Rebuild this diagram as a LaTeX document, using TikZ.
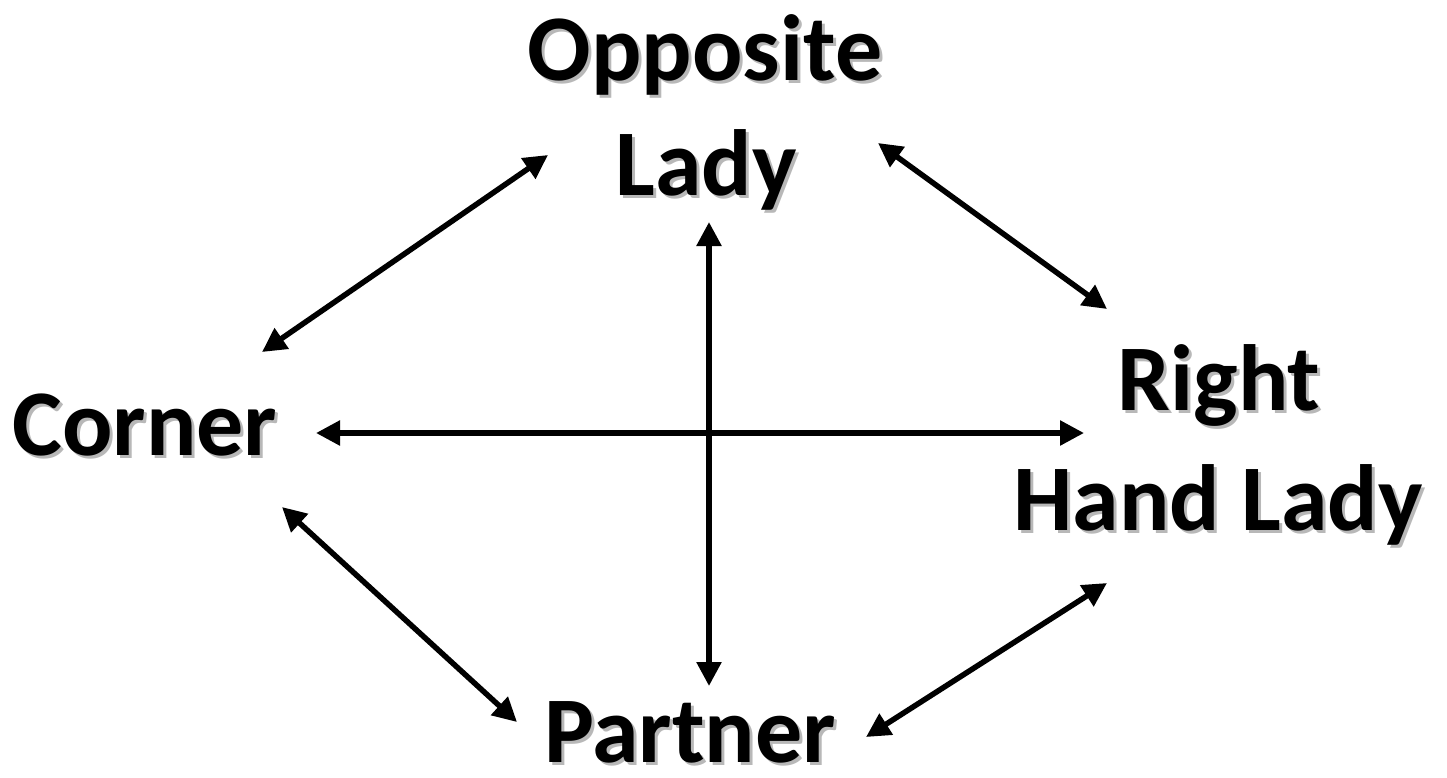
\documentclass[tikz,border=0pt]{standalone}
\usepackage{fontspec}
\setmainfont{Carlito}
\usetikzlibrary{arrows.meta}
\tikzset{
  txt/.style={anchor=base, inner sep=0pt, font=\fontsize{94}{113}\selectfont\bfseries, text=black},
  shd/.style={txt, text=black!28},
  arr/.style={line width=5.5pt, {Triangle[length=24pt,width=24pt]}-{Triangle[length=24pt,width=24pt]}}
}
\begin{document}
\begin{tikzpicture}[x=1pt,y=-1pt]
\useasboundingbox (0,0) rectangle (1447,777);
% shadows
\node[shd] at (708,83) {Opposite};
\node[shd] at (709,198) {Lady};
\node[shd] at (148,458) {Corner};
\node[shd] at (1222,413) {Right};
\node[shd] at (1221,533) {Hand Lady};
\node[shd] at (693,765) {Partner};
% texts
\node[txt] (opp) at (705,80) {Opposite};
\node[txt] (lady) at (706,195) {Lady};
\node[txt] (corner) at (145,455) {Corner};
\node[txt] (right) at (1219,410) {Right};
\node[txt] (hand) at (1218,530) {Hand Lady};
\node[txt] (partner) at (690,762) {Partner};
% arrow end points
\coordinate (oL) at (548,155);
\coordinate (cU) at (262,352);
\coordinate (oR) at (878,143);
\coordinate (rU) at (1107,309);
\coordinate (vT) at (709,222);
\coordinate (vB) at (709,686);
\coordinate (hL) at (316,433);
\coordinate (hR) at (1084,433);
\coordinate (cD) at (282,507);
\coordinate (pL) at (517,722);
\coordinate (pR) at (866,737);
\coordinate (rD) at (1107,583);
\draw[arr] (oL) -- (cU);
\draw[arr] (oR) -- (rU);
\draw[arr] (vT) -- (vB);
\draw[arr] (hL) -- (hR);
\draw[arr] (cD) -- (pL);
\draw[arr] (pR) -- (rD);
\end{tikzpicture}
\end{document}
